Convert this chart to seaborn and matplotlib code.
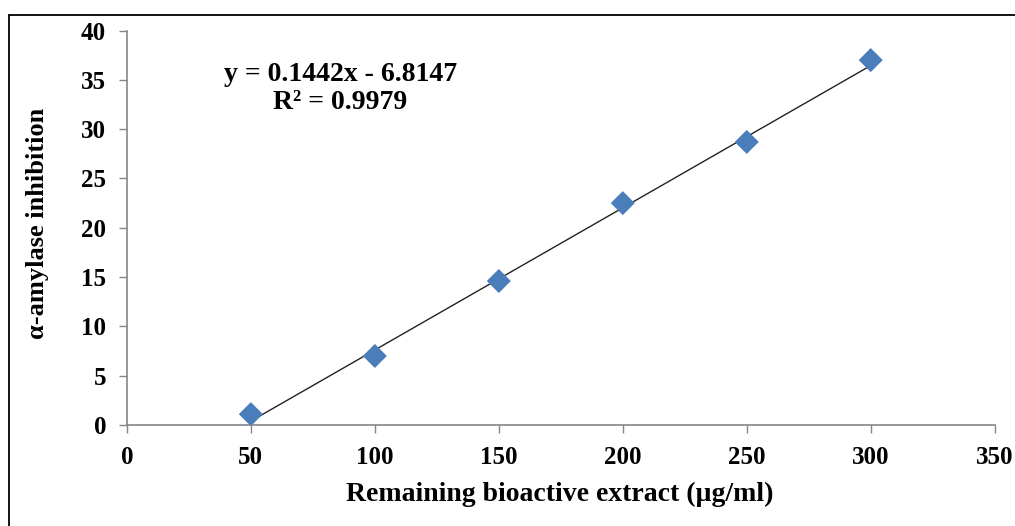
import numpy as np
import pandas as pd
import seaborn as sns
import matplotlib.pyplot as plt
from matplotlib.lines import Line2D

# Dados
extract_conc = [50, 100, 150, 200, 250, 300]
inhibition = [1.1, 7.0, 14.6, 22.5, 28.7, 37.0]
slope, intercept = 0.1442, -6.8147
r_squared = 0.9979
x_ticks = [0, 50, 100, 150, 200, 250, 300, 350]
y_ticks = [0, 5, 10, 15, 20, 25, 30, 35, 40]

sns.set_style('white')
plt.rcParams['font.family'] = ['Liberation Serif', 'DejaVu Serif']
plt.rcParams['font.weight'] = 'bold'
plt.rcParams['text.color'] = 'black'
plt.rcParams['axes.labelcolor'] = 'black'

df = pd.DataFrame({'conc': extract_conc, 'inh': inhibition})

fig = plt.figure(figsize=(10.15, 5.26), dpi=100)
ax = fig.add_axes([0.125, 0.192, 0.855, 0.750])

# linha de tendência
x_fit = np.array([extract_conc[0], extract_conc[-1]])
ax.plot(x_fit, slope * x_fit + intercept, color='#222222', linewidth=1.0, zorder=2)

sns.scatterplot(data=df, x='conc', y='inh', ax=ax, marker='D', s=150,
                color='#4A7EBB', edgecolor='none', linewidth=0, zorder=3)

ax.set_xlim(0, 350)
ax.set_ylim(0, 40)
ax.set_xticks(x_ticks)
ax.set_yticks(y_ticks)
ax.tick_params(axis='both', bottom=True, left=True, labelsize=18, length=6, width=1,
               color='#868686', labelcolor='black', direction='out', pad=9)
for lbl in ax.get_xticklabels() + ax.get_yticklabels():
    lbl.set_fontweight('bold')

for side in ['top', 'right']:
    ax.spines[side].set_visible(False)
for side in ['left', 'bottom']:
    ax.spines[side].set_color('#868686')
    ax.spines[side].set_linewidth(1.2)

ax.set_xlabel('Remaining bioactive extract (µg/ml)', fontsize=20, fontweight='bold')
ax.set_ylabel('α-amylase inhibition', fontsize=19, fontweight='bold')
ax.xaxis.set_label_coords(0.499, -0.145)
ax.yaxis.set_label_coords(-0.090, 0.512)

ax.text(86, 35.5, f'y = {slope}x - {abs(intercept)}', fontsize=20, fontweight='bold',
        ha='center', va='center')
ax.text(86, 32.7, f'R² = {r_squared}', fontsize=20, fontweight='bold',
        ha='center', va='center')

# moldura da figura (só topo e esquerda visíveis)
fig.add_artist(Line2D([9 / 1015, 1.0], [1 - 15 / 526, 1 - 15 / 526],
                      transform=fig.transFigure, color='black', linewidth=1.3))
fig.add_artist(Line2D([9 / 1015, 9 / 1015], [0.0, 1 - 15 / 526],
                      transform=fig.transFigure, color='black', linewidth=1.3))

fig.savefig('out.png', dpi=100)
